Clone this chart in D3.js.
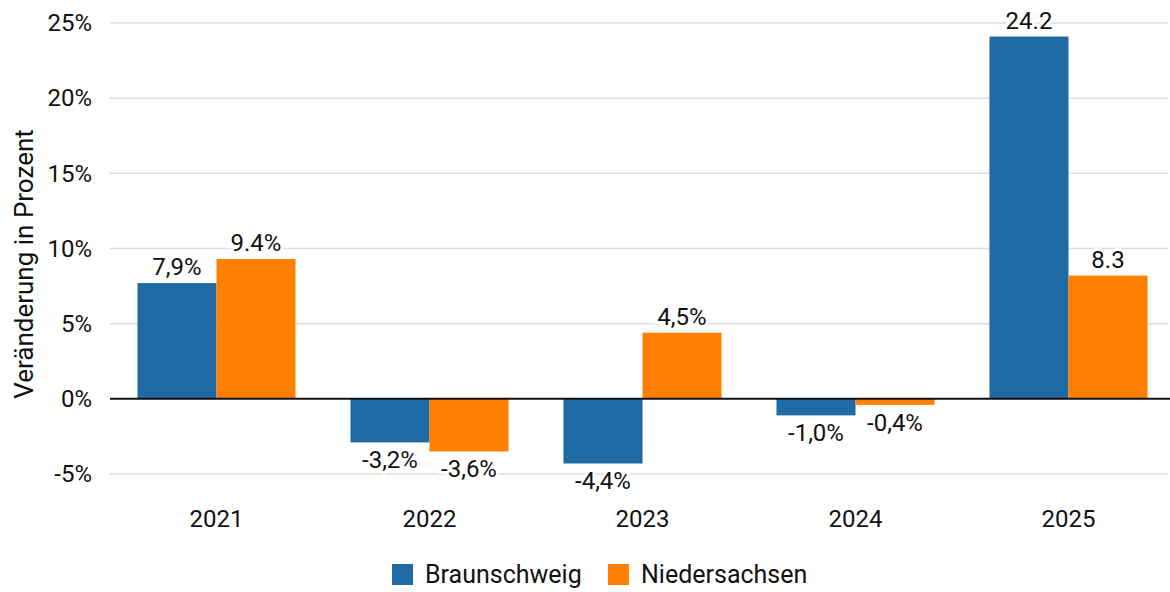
<!DOCTYPE html>
<html><head><meta charset="utf-8">
<script src="https://cdn.jsdelivr.net/npm/d3@7"></script>
<style>body{margin:0;background:#fff}svg{display:block;font-family:Roboto,"Noto Sans",sans-serif}</style>
</head><body><svg id="c" width="1170" height="592"></svg>
<script>
const years = ["2021","2022","2023","2024","2025"];
const seriesNames = ["Braunschweig","Niedersachsen"];
const braunschweig = [7.7, -2.9, -4.3, -1.1, 24.1];
const niedersachsen = [9.3, -3.5, 4.4, -0.4, 8.2];
const braunschweigLabels = ["7,9%","-3,2%","-4,4%","-1,0%","24.2"];
const niedersachsenLabels = ["9.4%","-3,6%","4,5%","-0,4%","8.3"];
const yTicks = [-5, 0, 5, 10, 15, 20, 25];
const colors = ["#1f69a4", "#ff7f00"];

const svg = d3.select("#c");
const y = d3.scaleLinear().domain([-5, 25]).range([474, 23]);
const x0 = d3.scaleBand().domain(years).range([110, 1175]).paddingInner(0.258).paddingOuter(0.129);
const x1 = d3.scaleBand().domain(seriesNames).range([0, x0.bandwidth()]);

const data = years.map((yr, i) => ({yr, vals: [
  {s: seriesNames[0], v: braunschweig[i], l: braunschweigLabels[i], c: colors[0]},
  {s: seriesNames[1], v: niedersachsen[i], l: niedersachsenLabels[i], c: colors[1]}]}));

// gridlines
svg.append("g").selectAll("line").data(yTicks.filter(t => t !== 0)).join("line")
  .attr("x1", 110).attr("x2", 1168).attr("y1", d => y(d)).attr("y2", d => y(d))
  .attr("stroke", "#dddddd").attr("stroke-width", 1.5);

// y axis labels
const yAxis = d3.axisLeft(y).tickValues(yTicks).tickFormat(d => d + "%").tickSize(0).tickPadding(0);
const ya = svg.append("g").attr("transform", "translate(92,0)").call(yAxis);
ya.select(".domain").remove();
ya.selectAll("text").attr("font-size", 24).attr("fill", "#111").attr("font-family", "Roboto");

// bars
const g = svg.append("g").selectAll("g").data(data).join("g")
  .attr("transform", d => `translate(${x0(d.yr)},0)`);
g.selectAll("rect").data(d => d.vals).join("rect")
  .attr("x", d => x1(d.s)).attr("width", x1.bandwidth())
  .attr("y", d => y(Math.max(0, d.v))).attr("height", d => Math.abs(y(d.v) - y(0)))
  .attr("fill", d => d.c);

// value labels
g.selectAll("text").data(d => d.vals).join("text")
  .attr("x", d => x1(d.s) + x1.bandwidth() / 2)
  .attr("y", d => d.v >= 0 ? y(d.v) - 8 : y(d.v) + 26)
  .attr("text-anchor", "middle").attr("font-size", 24).attr("fill", "#111")
  .attr("stroke", "#fff").attr("stroke-width", 6).attr("paint-order", "stroke")
  .text(d => d.l);

// zero line
svg.append("line").attr("x1", 110).attr("x2", 1170).attr("y1", y(0)).attr("y2", y(0))
  .attr("stroke", "#111").attr("stroke-width", 2);

// x axis labels
const xAxis = d3.axisBottom(x0).tickSize(0).tickPadding(0);
const xa = svg.append("g").attr("transform", "translate(0,510)").call(xAxis);
xa.select(".domain").remove();
xa.selectAll("text").attr("font-size", 24).attr("fill", "#111").attr("font-family", "Roboto").attr("dy", "0.71em");

// y title
svg.append("text").attr("transform", "translate(33,264) rotate(-90)")
  .attr("text-anchor", "middle").attr("font-size", 26).attr("fill", "#111")
  .text("Veränderung in Prozent");

// legend
const legX = [392, 608];
const lg = svg.append("g").selectAll("g").data(seriesNames).join("g")
  .attr("transform", (d, i) => `translate(${legX[i]},564)`);
lg.append("rect").attr("width", 21).attr("height", 21).attr("fill", (d, i) => colors[i]);
lg.append("text").attr("x", 33).attr("y", 19).attr("font-size", 25).attr("fill", "#111").text(d => d);
</script></body></html>
